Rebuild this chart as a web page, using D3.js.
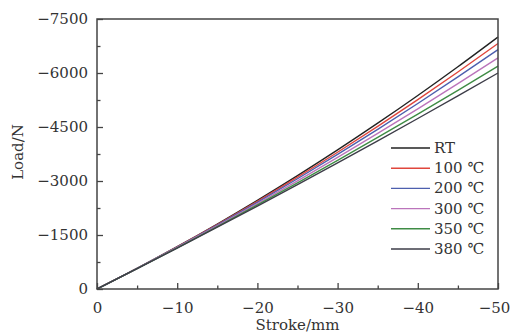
<!DOCTYPE html>
<html>
<head>
<meta charset="utf-8">
<script src="https://cdn.jsdelivr.net/npm/d3@7"></script>
<style>
body { margin: 0; background: #fff; }
text { font-family: "DejaVu Serif", serif; fill: #333; }
</style>
</head>
<body>
<div class="canva"></div>
<script>
// stroke positions (mm)
const stroke = [0, -5, -10, -15, -20, -25, -30, -35, -40, -45, -50];

// load (N) for each temperature
const loadRT  = [0, -574, -1176, -1806, -2464, -3150, -3864, -4606, -5376, -6174, -7000];
const load100 = [0, -572, -1169, -1790, -2435, -3105, -3799, -4518, -5261, -6028, -6820];
const load200 = [0, -571, -1162, -1775, -2408, -3063, -3738, -4435, -5152, -5891, -6650];
const load300 = [0, -568, -1153, -1754, -2371, -3005, -3655, -4322, -5005, -5704, -6420];
const load350 = [0, -566, -1144, -1733, -2334, -2948, -3572, -4209, -4858, -5518, -6190];
const load380 = [0, -564, -1136, -1716, -2304, -2900, -3504, -4116, -4736, -5364, -6000];

const names  = ['RT', '100 ℃', '200 ℃', '300 ℃', '350 ℃', '380 ℃'];
const colors = ['#222222', '#e0463c', '#4d5fae', '#bb74bb', '#3f8c45', '#3d3d48'];

const xTicks = [0, -10, -20, -30, -40, -50];
const yTicks = [0, -1500, -3000, -4500, -6000, -7500];

const series = [loadRT, load100, load200, load300, load350, load380];

const W = 511, H = 335;
const mLeft = 97, mRight = 498, mTop = 19, mBottom = 289;

const svg = d3.select('.canva').append('svg')
  .attr('width', W)
  .attr('height', H);

const x = d3.scaleLinear().domain([0, -50]).range([mLeft, mRight]);
const y = d3.scaleLinear().domain([0, -7500]).range([mBottom, mTop]);

const fmt = d => d === 0 ? '0' : '\u2212' + Math.abs(d);

// curves
const line = d3.line()
  .x((d, i) => x(stroke[i]))
  .y(d => y(d))
  .curve(d3.curveMonotoneX);

svg.selectAll('path.curve')
  .data(series)
  .enter().append('path')
  .attr('class', 'curve')
  .attr('d', d => line(d))
  .attr('fill', 'none')
  .attr('stroke', (d, i) => colors[i])
  .attr('stroke-width', 1.4);

// minor ticks
const xMinor = d3.range(0, -55, -5).filter(v => v % 10 !== 0);
const yMinor = d3.range(0, -7501, -750).filter(v => v % 1500 !== 0);

// x axis
const xAxis = svg.append('g')
  .attr('transform', `translate(0,${mBottom})`)
  .call(d3.axisBottom(x).tickValues(xTicks).tickSize(-6).tickPadding(13).tickFormat(fmt));
svg.append('g')
  .attr('transform', `translate(0,${mBottom})`)
  .call(d3.axisBottom(x).tickValues(xMinor).tickSize(-3.5).tickFormat(''));

// y axis
svg.append('g')
  .attr('transform', `translate(${mLeft},0)`)
  .call(d3.axisLeft(y).tickValues(yTicks).tickSize(-6).tickPadding(9).tickFormat(fmt));
svg.append('g')
  .attr('transform', `translate(${mLeft},0)`)
  .call(d3.axisLeft(y).tickValues(yMinor).tickSize(-3.5).tickFormat(''));

svg.selectAll('.tick line').attr('stroke', '#444').attr('stroke-width', 1.3);
svg.selectAll('.domain').remove();
svg.selectAll('.tick text')
  .style('font-family', '"DejaVu Serif", serif')
  .style('font-size', '15px')
  .attr('fill', '#333');

// keep the last x label inside the window
xAxis.selectAll('.tick text').filter(d => d === -50).attr('dx', -4);

// frame
svg.append('rect')
  .attr('x', mLeft).attr('y', mTop)
  .attr('width', mRight - mLeft).attr('height', mBottom - mTop)
  .attr('fill', 'none')
  .attr('stroke', '#444')
  .attr('stroke-width', 1.5);

// axis titles
svg.append('text')
  .attr('x', (mLeft + mRight) / 2)
  .attr('y', 330)
  .attr('text-anchor', 'middle')
  .style('font-size', '15px')
  .text('Stroke/mm');

svg.append('text')
  .attr('transform', 'translate(23,152) rotate(-90)')
  .attr('text-anchor', 'middle')
  .style('font-size', '15px')
  .text('Load/N');

// legend
const legend = svg.append('g')
  .selectAll('g')
  .data(names)
  .enter().append('g')
  .attr('transform', (d, i) => `translate(391,${148 + i * 20.2})`);

legend.append('line')
  .attr('x1', 0).attr('x2', 39)
  .attr('y1', 0).attr('y2', 0)
  .attr('stroke', (d, i) => colors[i])
  .attr('stroke-width', 1.4);

legend.append('text')
  .attr('x', 43)
  .attr('y', 5)
  .style('font-size', '15px')
  .text(d => d);
</script>
</body>
</html>
